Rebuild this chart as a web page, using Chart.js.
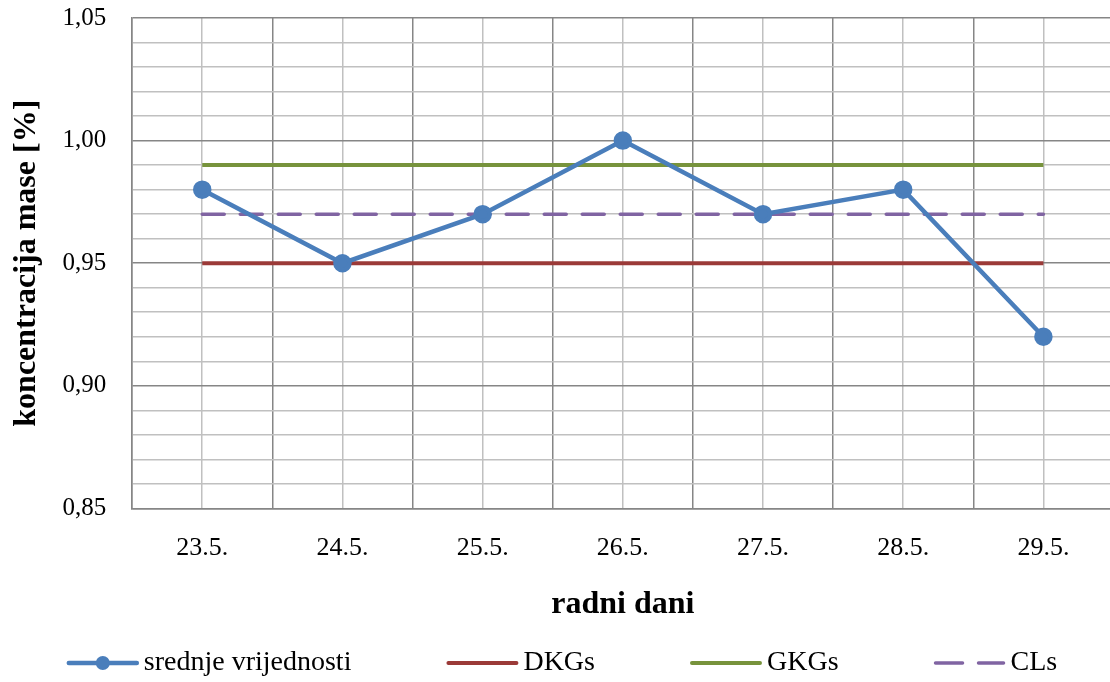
<!DOCTYPE html>
<html>
<head>
<meta charset="utf-8">
<script src="https://cdn.jsdelivr.net/npm/chart.js@4/dist/chart.umd.min.js"></script>
<style>
  html, body { margin: 0; padding: 0; background: #fff; overflow: hidden; }
  #wrap { width: 1125px; height: 682px; }
</style>
</head>
<body>
<div id="wrap"><canvas id="chart" width="1125" height="682"></canvas></div>
<script>
const days = ['23.5.', '24.5.', '25.5.', '26.5.', '27.5.', '28.5.', '29.5.'];
const srednje = [0.98, 0.95, 0.97, 1.00, 0.97, 0.98, 0.92];
const dkgs = [0.95, 0.95, 0.95, 0.95, 0.95, 0.95, 0.95];
const gkgs = [0.99, 0.99, 0.99, 0.99, 0.99, 0.99, 0.99];
const cls = [0.97, 0.97, 0.97, 0.97, 0.97, 0.97, 0.97];

const FONT = '"Liberation Serif", "Times New Roman", serif';
const DARK = '#868686';
const LIGHT = '#c0c0c0';
const NONE = 'rgba(0,0,0,0)';

const toPoints = arr => arr.map((v, i) => ({ x: i, y: v }));

// legend drawn by hand: line symbols (with a marker for the blue series)
const bottomLegend = {
    id: 'bottomLegend',
    afterDraw(chart) {
        const ctx = chart.ctx;
        const sets = chart.data.datasets;
        const lineLen = 72, textGap = 5, itemGap = 95;
        ctx.save();
        ctx.font = '28px ' + FONT;
        const widths = sets.map(ds => lineLen + textGap + ctx.measureText(ds.label).width);
        const total = widths.reduce((a, b) => a + b, 0) + itemGap * (sets.length - 1);
        let x = 562 - total / 2;
        const y = chart.height - 19;
        sets.forEach((ds, i) => {
            ctx.strokeStyle = ds.borderColor;
            ctx.lineWidth = ds.borderWidth;
            ctx.lineCap = 'round';
            ctx.setLineDash(ds.legendDash || []);
            ctx.beginPath();
            ctx.moveTo(x + 2, y);
            ctx.lineTo(x + lineLen - 2, y);
            ctx.stroke();
            ctx.setLineDash([]);
            if (ds.pointRadius > 0) {
                ctx.fillStyle = ds.borderColor;
                ctx.beginPath();
                ctx.arc(x + lineLen / 2, y, ds.pointRadius, 0, Math.PI * 2);
                ctx.fill();
            }
            ctx.fillStyle = '#000';
            ctx.textBaseline = 'middle';
            ctx.textAlign = 'left';
            ctx.fillText(ds.label, x + lineLen + textGap, y);
            x += widths[i] + itemGap;
        });
        ctx.restore();
    }
};

new Chart(document.getElementById('chart'), {
    type: 'line',
    data: {
        datasets: [
            { label: 'srednje vrijednosti', data: toPoints(srednje), borderColor: '#4a7ebb', backgroundColor: '#4a7ebb',
              borderWidth: 4.5, pointRadius: 7, pointHoverRadius: 7, pointBackgroundColor: '#4a7ebb', order: 0 },
            { label: 'DKGs', data: toPoints(dkgs), borderColor: '#9b3a38', borderWidth: 4, pointRadius: 0, order: 1 },
            { label: 'GKGs', data: toPoints(gkgs), borderColor: '#77933c', borderWidth: 4, pointRadius: 0, order: 2 },
            { label: 'CLs', data: toPoints(cls), borderColor: '#8064a2', borderWidth: 3.5, borderDash: [22, 16],
              legendDash: [27, 16], borderCapStyle: 'round', pointRadius: 0, order: 3 }
        ]
    },
    options: {
        responsive: false,
        animation: false,
        layout: { padding: { left: 8, right: 0, top: 18, bottom: 58 } },
        plugins: {
            tooltip: { enabled: false },
            legend: { display: false }
        },
        scales: {
            x: {
                type: 'linear',
                min: -0.5,
                max: 6.5,
                afterBuildTicks(axis) {
                    const t = [];
                    for (let i = -1; i <= 13; i++) t.push({ value: i / 2 });
                    axis.ticks = t;
                },
                ticks: {
                    autoSkip: false,
                    maxRotation: 0,
                    padding: 0,
                    font: { family: FONT, size: 26 },
                    color: '#000',
                    callback: v => Number.isInteger(v) ? days[v] : ''
                },
                grid: {
                    drawTicks: true,
                    tickLength: 24,
                    tickColor: NONE,
                    lineWidth: 1.5,
                    color: c => Number.isInteger(c.tick.value) ? LIGHT : DARK
                },
                border: { color: DARK, width: 1.5 },
                title: {
                    display: true,
                    text: 'radni dani',
                    font: { family: FONT, size: 32, weight: 'bold' },
                    color: '#000',
                    padding: { top: 22, bottom: 0 }
                }
            },
            y: {
                min: 0.85,
                max: 1.05,
                afterBuildTicks(axis) {
                    const t = [];
                    for (let i = 85; i <= 105; i++) t.push({ value: i / 100 });
                    axis.ticks = t;
                },
                ticks: {
                    autoSkip: false,
                    padding: 0,
                    font: { family: FONT, size: 25 },
                    color: '#000',
                    callback: v => Math.round(v * 100) % 5 === 0 ? v.toFixed(2).replace('.', ',') : ''
                },
                grid: {
                    drawTicks: true,
                    tickLength: 26,
                    tickColor: NONE,
                    lineWidth: 1.5,
                    color: c => Math.round(c.tick.value * 100) % 5 === 0 ? DARK : LIGHT
                },
                border: { color: DARK, width: 1.5 },
                title: {
                    display: true,
                    text: 'koncentracija mase [%]',
                    font: { family: FONT, size: 32, weight: 'bold' },
                    color: '#000',
                    padding: { top: 0, bottom: 16 }
                }
            }
        }
    },
    plugins: [bottomLegend]
});
</script>
</body>
</html>
